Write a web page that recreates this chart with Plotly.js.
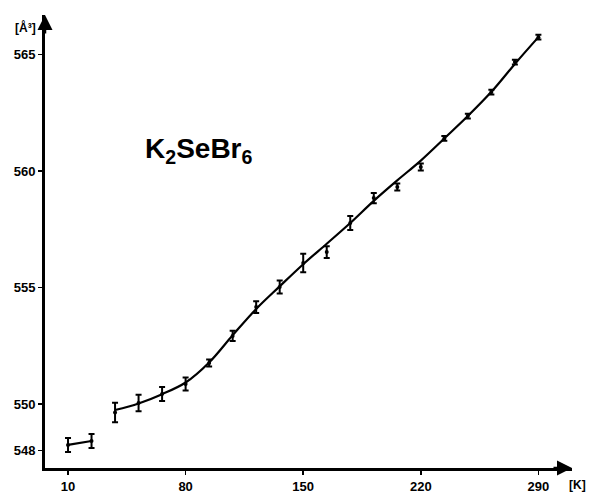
<!DOCTYPE html>
<html>
<head>
<meta charset="utf-8">
<script src="https://cdn.plot.ly/plotly-3.0.1.min.js"></script>
<style>html,body{margin:0;padding:0;background:#fff;}#chart{width:591px;height:493px;}</style>
</head>
<body>
<div id="chart"></div>
<script>
// Measured temperatures [K]
var temperature = [10, 24, 38, 52, 66, 80, 94, 108, 122, 136, 150, 164, 178, 192, 206, 220, 234, 248, 262, 276, 290];
// Measured cell volume [Å³]
var volume = [548.24, 548.41, 549.63, 550.04, 550.43, 550.86, 551.76, 552.92, 554.16, 555.02, 556.05, 556.52, 557.77, 558.84, 559.31, 560.17, 561.40, 562.36, 563.39, 564.68, 565.75];
// Error bar half-widths [Å³]
var volumeError = [0.30, 0.30, 0.42, 0.35, 0.30, 0.28, 0.15, 0.22, 0.25, 0.28, 0.40, 0.25, 0.30, 0.22, 0.15, 0.15, 0.10, 0.10, 0.10, 0.10, 0.10];

// Low-temperature segment of the drawn curve
var lowFitT = [10, 24];
var lowFitV = [548.24, 548.41];
// Main drawn (smoothed) curve
var fitT = [38, 52, 66, 80, 94, 108, 122, 136, 150, 164, 178, 192, 206, 220, 234, 248, 262, 276, 290];
var fitV = [549.74, 550.02, 550.42, 550.92, 551.78, 552.95, 554.08, 555.05, 556.0, 556.88, 557.77, 558.72, 559.6, 560.45, 561.4, 562.36, 563.4, 564.6, 565.75];

var xTicks = [10, 80, 150, 220, 290];
var yTicks = [548, 550, 555, 560, 565];

var tickFont = {family: 'Liberation Sans, Arial, sans-serif', size: 13, color: '#000', weight: 'bold'};

var traces = [
  {x: lowFitT, y: lowFitV, mode: 'lines', line: {color: '#000', width: 2.2}, hoverinfo: 'skip'},
  {x: fitT, y: fitV, mode: 'lines', line: {color: '#000', width: 2.2, shape: 'spline', smoothing: 1}, hoverinfo: 'skip'},
  {x: temperature, y: volume, mode: 'markers',
   marker: {color: '#000', size: 4},
   error_y: {type: 'data', array: volumeError, visible: true, color: '#000', thickness: 2, width: 3}}
];

var layout = {
  width: 591, height: 493,
  margin: {l: 45, r: 19, t: 15, b: 25},
  paper_bgcolor: '#fff', plot_bgcolor: '#fff',
  showlegend: false,
  xaxis: {
    range: [-3.7, 310], tickvals: xTicks, ticktext: xTicks.map(String),
    showgrid: false, zeroline: false, showline: true, linecolor: '#000', linewidth: 3,
    ticks: 'outside', ticklen: 4, tickwidth: 1.5, tickcolor: '#000', tickfont: tickFont
  },
  yaxis: {
    range: [547.25, 566.7], tickvals: yTicks, ticktext: yTicks.map(String),
    showgrid: false, zeroline: false, showline: true, linecolor: '#000', linewidth: 3,
    ticks: 'outside', ticklen: 4, tickwidth: 1.5, tickcolor: '#000', tickfont: tickFont
  },
  annotations: [
    {xref: 'paper', yref: 'paper', x: 1.0, y: 0, ax: -20, ay: 0, text: '', showarrow: true,
     arrowhead: 2, arrowsize: 1.2, arrowwidth: 2.5, arrowcolor: '#000'},
    {xref: 'paper', yref: 'paper', x: 0, y: 1.0, ax: 0, ay: 20, text: '', showarrow: true,
     arrowhead: 2, arrowsize: 1.2, arrowwidth: 2.5, arrowcolor: '#000'},
    {xref: 'paper', yref: 'paper', x: 0, y: 1.0, xshift: -7, yshift: -3, xanchor: 'right', yanchor: 'top',
     text: '<b>[Å³]</b>', showarrow: false, font: {family: 'Liberation Sans, Arial, sans-serif', size: 12, color: '#000'}},
    {xref: 'paper', yref: 'paper', x: 1.0, y: 0, xshift: 16, yshift: -8, xanchor: 'right', yanchor: 'top',
     text: '<b>[K]</b>', showarrow: false, font: {family: 'Liberation Sans, Arial, sans-serif', size: 12, color: '#000'}},
    {xref: 'x', yref: 'y', x: 88, y: 560.9, xanchor: 'center', yanchor: 'middle',
     text: '<b>K<sub>2</sub>SeBr<sub>6</sub></b>', showarrow: false,
     font: {family: 'Liberation Sans, Arial, sans-serif', size: 28, color: '#000'}}
  ]
};

Plotly.newPlot('chart', traces, layout, {displayModeBar: false, staticPlot: true});
</script>
</body>
</html>
